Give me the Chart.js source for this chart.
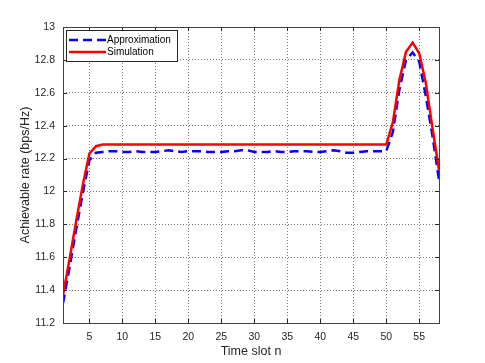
<!DOCTYPE html>
<html><head><meta charset="utf-8">
<script src="https://cdn.jsdelivr.net/npm/chart.js@4"></script>
<style>html,body{margin:0;padding:0;background:#fff;} canvas{display:block;}</style>
</head><body>
<canvas id="c" width="485" height="363" style="width:485px;height:363px"></canvas>
<script>
const timeSlots = [1,2,3,4,5,6,7,8,9,10,11,12,13,14,15,16,17,18,19,20,21,22,23,24,25,26,27,28,29,30,31,32,33,34,35,36,37,38,39,40,41,42,43,44,45,46,47,48,49,50,51,52,53,54,55,56,57,58];
const approximation = [11.32,11.54,11.77,11.99,12.19,12.235,12.24,12.245,12.245,12.24,12.24,12.245,12.24,12.24,12.24,12.245,12.25,12.245,12.24,12.245,12.245,12.245,12.24,12.24,12.24,12.245,12.245,12.25,12.25,12.24,12.24,12.24,12.245,12.24,12.24,12.245,12.245,12.245,12.24,12.24,12.245,12.25,12.245,12.235,12.235,12.24,12.245,12.245,12.245,12.245,12.36,12.62,12.80,12.845,12.79,12.58,12.34,12.07];
const simulation = [11.37,11.59,11.82,12.04,12.23,12.275,12.285,12.285,12.285,12.285,12.285,12.285,12.285,12.285,12.285,12.285,12.285,12.285,12.285,12.285,12.285,12.285,12.285,12.285,12.285,12.285,12.285,12.285,12.285,12.285,12.285,12.285,12.285,12.285,12.285,12.285,12.285,12.285,12.285,12.285,12.285,12.285,12.285,12.285,12.285,12.285,12.285,12.285,12.285,12.285,12.42,12.68,12.85,12.905,12.84,12.66,12.39,12.13];
const xTickValues = [5,10,15,20,25,30,35,40,45,50,55];
const seriesNames = ['Approximation','Simulation'];
const xTitle = 'Time slot n';
const yTitle = 'Achievable rate (bps/Hz)';

const FONT = "'Liberation Sans', Arial, Helvetica, sans-serif";
const TXT = '#262626';

const toPts = arr => timeSlots.map((t, i) => ({x: t, y: arr[i]}));

const decor = {
  id: 'decor',
  afterDraw(chart) {
    const ctx = chart.ctx, ca = chart.chartArea;
    const xs = chart.scales.x, ys = chart.scales.y;
    ctx.save();
    ctx.strokeStyle = '#262626';
    ctx.lineWidth = 1;
    ctx.beginPath();
    xs.ticks.forEach(t => {
      const px = Math.round(xs.getPixelForValue(t.value)) + 0.5;
      ctx.moveTo(px, ca.bottom); ctx.lineTo(px, ca.bottom - 4);
      ctx.moveTo(px, ca.top); ctx.lineTo(px, ca.top + 4);
    });
    ys.ticks.forEach(t => {
      const py = Math.round(ys.getPixelForValue(t.value)) + 0.5;
      ctx.moveTo(ca.left, py); ctx.lineTo(ca.left + 4, py);
      ctx.moveTo(ca.right, py); ctx.lineTo(ca.right - 4, py);
    });
    ctx.stroke();
    ctx.strokeStyle = '#404040';
    ctx.strokeRect(Math.round(ca.left) + 0.5, Math.round(ca.top) + 0.5, Math.round(ca.right - ca.left), Math.round(ca.bottom - ca.top));
    const lx = Math.round(ca.left) + 3, ly = Math.round(ca.top) + 3, lw = 111, lh = 31;
    ctx.fillStyle = '#fff';
    ctx.fillRect(lx, ly, lw, lh);
    ctx.strokeStyle = '#262626';
    ctx.strokeRect(lx + 0.5, ly + 0.5, lw, lh);
    ctx.font = '10px ' + FONT;
    ctx.textBaseline = 'middle';
    ctx.textAlign = 'left';
    [0, 1].forEach((k, i) => {
      const ds = chart.data.datasets.find(d => d.label === seriesNames[k]);
      const y = ly + 10 + i * 12;
      ctx.beginPath();
      ctx.strokeStyle = ds.borderColor;
      ctx.lineWidth = ds.borderWidth;
      ctx.setLineDash(ds.borderDash || []);
      ctx.moveTo(lx + 3, y); ctx.lineTo(lx + 40, y);
      ctx.stroke();
      ctx.setLineDash([]);
      ctx.fillStyle = '#000';
      ctx.fillText(seriesNames[k], lx + 41, y + 0.5);
    });
    ctx.restore();
  }
};

new Chart(document.getElementById('c'), {
  type: 'line',
  data: {
    datasets: [
      {label: seriesNames[0], data: toPts(approximation), borderColor: '#0000ff', borderWidth: 2.5, borderDash: [9,5], pointRadius: 0, fill: false, tension: 0, order: 2},
      {label: seriesNames[1], data: toPts(simulation), borderColor: '#ff0000', borderWidth: 2.5, pointRadius: 0, fill: false, tension: 0, order: 1}
    ]
  },
  options: {
    responsive: false,
    devicePixelRatio: 1,
    animation: false,
    layout: {padding: {top: 27, right: 46, left: 0, bottom: 0}},
    plugins: {legend: {display: false}, tooltip: {enabled: false}},
    scales: {
      x: {
        type: 'linear', min: 1, max: 58,
        afterBuildTicks: s => { s.ticks = xTickValues.map(v => ({value: v})); },
        afterFit: s => { s.height = 40; },
        grid: {color: '#7a7a7a', drawTicks: false, lineWidth: 1},
        border: {display: false, dash: [1,2]},
        ticks: {font: {family: FONT, size: 10.5}, color: TXT, padding: 8, maxRotation: 0, autoSkip: false},
        title: {display: true, text: xTitle, font: {family: FONT, size: 12.5}, color: TXT, padding: {top: 0, bottom: 4}}
      },
      y: {
        min: 11.2, max: 13,
        afterFit: s => { s.width = 63; },
        grid: {color: '#7a7a7a', drawTicks: false, lineWidth: 1},
        border: {display: false, dash: [1,2]},
        ticks: {stepSize: 0.2, font: {family: FONT, size: 10.5}, color: TXT, padding: 8,
          callback: v => String(Number(v.toFixed(1)))},
        title: {display: true, text: yTitle, font: {family: FONT, size: 12.5}, color: TXT, padding: {top: 18, bottom: 0}}
      }
    }
  },
  plugins: [decor]
});
</script>
</body></html>
